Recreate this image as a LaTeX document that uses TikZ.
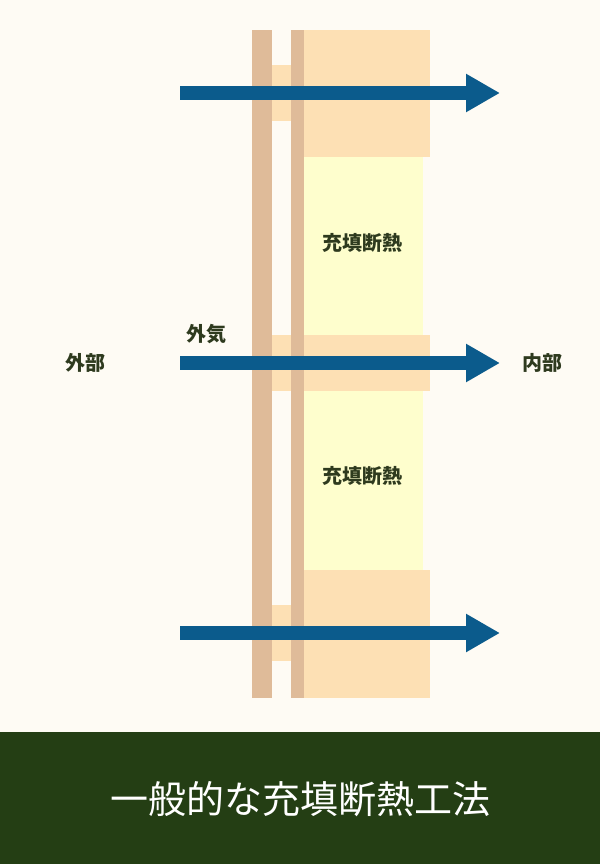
\documentclass[tikz,border=0pt]{standalone}
\usepackage{fontspec}
\newfontfamily\cjk{Noto Sans CJK JP}
\usetikzlibrary{arrows.meta}
\definecolor{bg}{HTML}{FEFBF4}
\definecolor{strip}{HTML}{DFBB99}
\definecolor{tan}{HTML}{FDE0B4}
\definecolor{yel}{HTML}{FEFECD}
\definecolor{blu}{HTML}{0B5B8C}
\definecolor{grn}{HTML}{243E14}
\definecolor{txt}{HTML}{2E3A1E}
\begin{document}
\begin{tikzpicture}[x=1pt,y=-1pt,
  lbl/.style={font=\cjk\bfseries\fontsize{20}{22}\selectfont, text=txt, inner sep=0},
  arr/.style={draw=blu, line width=14pt, -{Triangle[length=34pt,width=36pt]}}]
\useasboundingbox (0,0) rectangle (600,864);
\fill[bg] (0,0) rectangle (600,732);
\fill[grn] (0,732) rectangle (600,864);
% panel
\fill[tan] (304,30) rectangle (430,157);
\fill[yel] (304,157) rectangle (423,335);
\fill[tan] (304,335) rectangle (430,391);
\fill[yel] (304,391) rectangle (423,570);
\fill[tan] (304,570) rectangle (430,698);
% gap blocks
\foreach \y in {65,335,605} \fill[tan] (272,\y) rectangle (291,\y+56);
% strips
\fill[strip] (252,30) rectangle (272,698);
\fill[strip] (291,30) rectangle (304,698);
% arrows
\foreach \n/\y in {a/93,b/363,c/633}{
  \coordinate (\n1) at (180,\y); \coordinate (\n2) at (500,\y);
  \draw[arr] (\n1) -- (\n2);}
\node[lbl] (ext) at (85,363) {外部};
\node[lbl] (air) at (206,334) {外気};
\node[lbl] (int) at (542,363) {内部};
\node[lbl] (i1) at (362,243) {充填断熱};
\node[lbl] (i2) at (362,476) {充填断熱};
\node[font=\cjk\fontsize{38}{42}\selectfont, text=white, inner sep=0] (title) at (300,799) {一般的な充填断熱工法};
\end{tikzpicture}
\end{document}
